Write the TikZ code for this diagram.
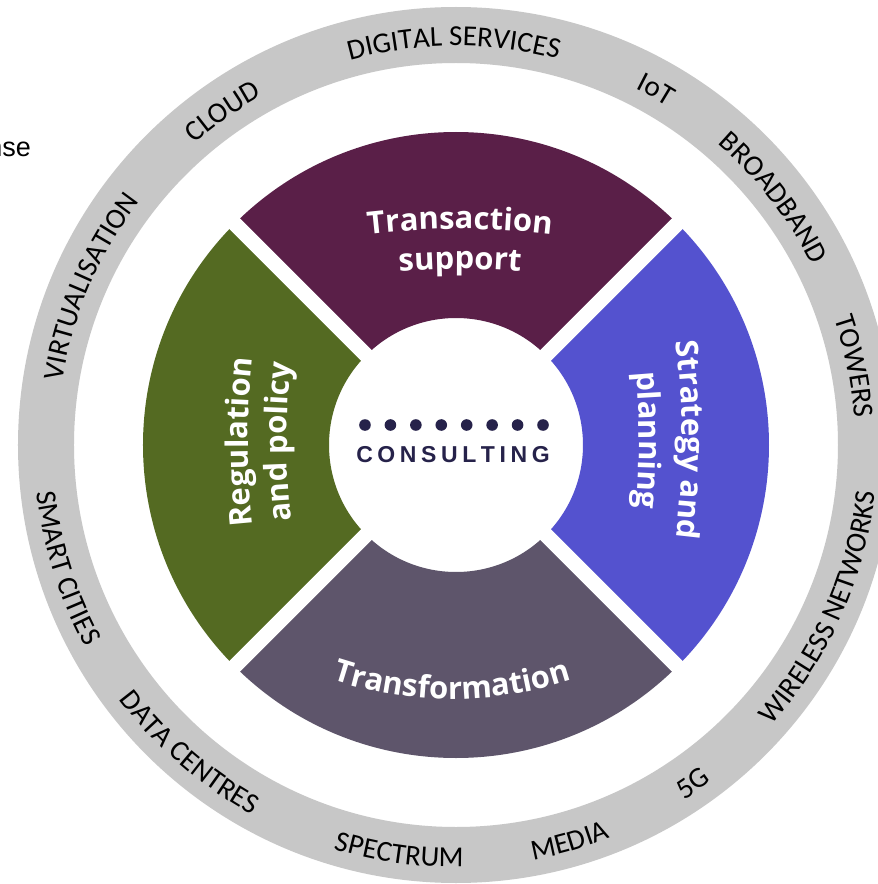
\documentclass[tikz,border=0pt]{standalone}
\usepackage{fontspec}
\usetikzlibrary{decorations.text}
\newfontfamily\ringfam{Carlito}
\newfontfamily\segfam{Open Sans}
\newfontfamily\consfam{Liberation Sans}
\newfontfamily\sidefam{Liberation Sans}
\definecolor{plum}{HTML}{5A1F48}
\definecolor{olive}{HTML}{546A22}
\definecolor{violet}{HTML}{5452CF}
\definecolor{slate}{HTML}{5E556B}
\definecolor{ringgray}{HTML}{C7C7C7}
\definecolor{navy}{HTML}{26224A}
\newcommand\ringfmt{\ringfam\fontsize{29}{31}\selectfont}
\newcommand\segfmt{\segfam\bfseries\fontsize{31}{34}\selectfont\color{white}}
\tikzset{
  ringtext/.style={decorate, decoration={text along path, text={|\ringfmt|#1}, text align=center}},
  segtext/.style={decorate, decoration={text along path, text={|\segfmt|#1}, text align=center}},
  gap/.style={white, line width=15pt}
}
\newcommand\toplabel[2]{\path[ringtext={#2}] ({#1+70}:399) arc[start angle={#1+70}, end angle={#1-70}, radius=399];}
\newcommand\botlabel[2]{\path[ringtext={#2}] ({#1-70}:422) arc[start angle={#1-70}, end angle={#1+70}, radius=422];}
\begin{document}
\begin{tikzpicture}[x=1pt,y=1pt]
\clip (-456,-439) rectangle (422,445);
\fill[white] (-456,-439) rectangle (422,445);
% outer ring
\fill[ringgray, even odd rule] (0,0) circle[radius=438] (0,0) circle[radius=382];
% ring labels
\toplabel{156.6}{VIRTUALISATION}
\toplabel{125}{CLOUD}
\toplabel{90.3}{DIGITAL SERVICES}
\toplabel{60.6}{IoT}
\toplabel{37.9}{BROADBAND}
\toplabel{11.2}{TOWERS}
\botlabel{197.5}{SMART CITIES}
\botlabel{229.1}{DATA CENTRES}
\botlabel{262.1}{SPECTRUM}
\botlabel{286}{MEDIA}
\botlabel{305}{5G}
\botlabel{336}{WIRELESS NETWORKS}
% sectors
\fill[plum] (45:313) arc[start angle=45,end angle=135,radius=313] -- (135:127) arc[start angle=135,end angle=45,radius=127] -- cycle;
\fill[olive] (135:313) arc[start angle=135,end angle=225,radius=313] -- (225:127) arc[start angle=225,end angle=135,radius=127] -- cycle;
\fill[slate] (225:313) arc[start angle=225,end angle=315,radius=313] -- (315:127) arc[start angle=315,end angle=225,radius=127] -- cycle;
\fill[violet] (-45:313) arc[start angle=-45,end angle=45,radius=313] -- (45:127) arc[start angle=45,end angle=-45,radius=127] -- cycle;
\draw[gap] (45:330) -- (225:330);
\draw[gap] (135:330) -- (315:330);
% sector labels
\path[segtext={Transaction}, shift={(4,-584)}] (110:800) arc[start angle=110,end angle=70,radius=800];
\path[segtext={support}, shift={(4,-584)}] (110:760) arc[start angle=110,end angle=70,radius=760];
\path[segtext={Transformation}, shift={(-4,126)}] (235:380) arc[start angle=235,end angle=305,radius=380];
\path[segtext={Strategy and}, shift={(-574,5)}] (20:800) arc[start angle=20,end angle=-20,radius=800];
\path[segtext={planning}, shift={(-574,5)}] (20:757) arc[start angle=20,end angle=-20,radius=757];
\path[segtext={Regulation}, shift={(592,3)}] (200:800) arc[start angle=200,end angle=160,radius=800];
\path[segtext={and policy}, shift={(592,3)}] (200:761) arc[start angle=200,end angle=160,radius=761];
% centre
\foreach \i in {0,...,7} {\fill[navy] ({-91+\i*25.43},20) circle[radius=5.8];}
\node[text=navy, inner sep=0pt, font=\consfam\bfseries\fontsize{23}{23}\selectfont] (consult) at (-3,-10)
  {C\kern4.6pt O\kern4.6pt N\kern4.6pt S\kern4.6pt U\kern4.6pt L\kern4.6pt T\kern4.6pt I\kern4.6pt N\kern4.6pt G};
% cut-off side text
\node[anchor=base east, inner sep=0pt, font=\sidefam\fontsize{27}{27}\selectfont] (nse) at (-425,288) {nse};
\end{tikzpicture}
\end{document}
